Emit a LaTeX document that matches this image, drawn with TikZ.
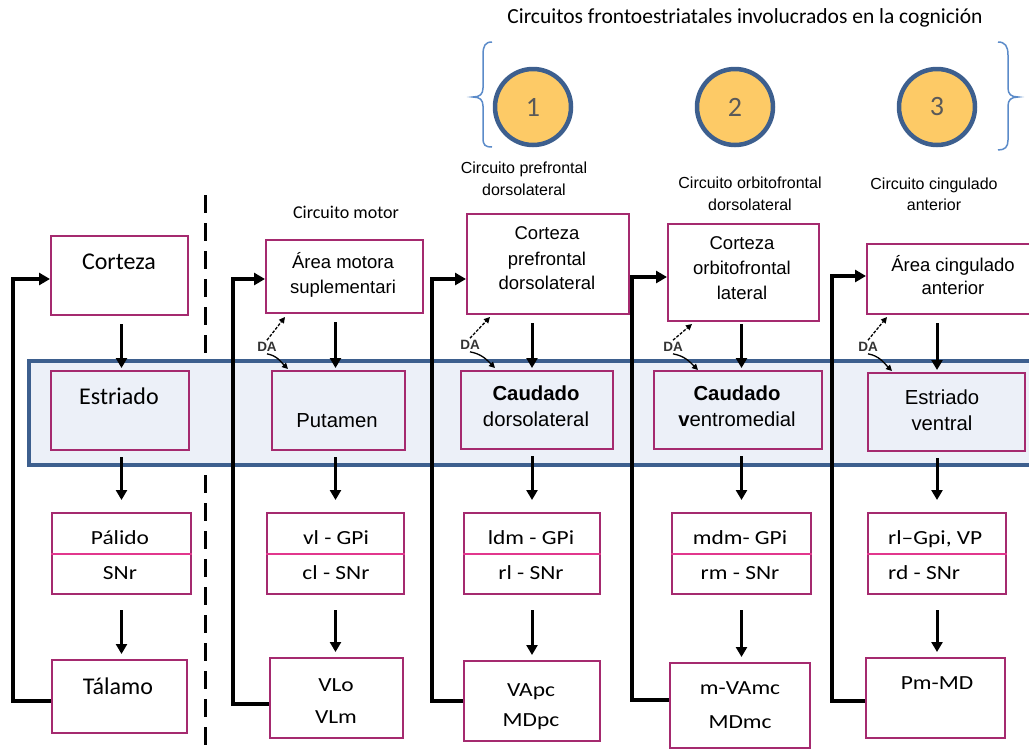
\documentclass[tikz,border=0pt]{standalone}
\usepackage{fontspec}
\setmainfont{Carlito}
\newfontfamily\arialf{Liberation Sans}
\newfontfamily\calstretch[FakeStretch=1.17]{Carlito}
\usetikzlibrary{arrows.meta,calc}
\definecolor{boxc}{HTML}{A52A6F}
\definecolor{divc}{HTML}{E2378D}
\definecolor{bandb}{HTML}{3D5F8E}
\definecolor{bandf}{HTML}{ECF0F8}
\definecolor{circf}{HTML}{FDCA66}
\definecolor{bracec}{HTML}{5B8BC9}
\definecolor{numc}{HTML}{595959}
\begin{document}
\begin{tikzpicture}[x=1pt,y=-1pt,
  box/.style={draw=boxc,line width=2pt,fill=white,anchor=north west,inner sep=0pt},
  bbox/.style={draw=boxc,line width=2pt,anchor=north west,inner sep=0pt},
  lbl/.style={inner sep=0pt,text depth=0pt,anchor=center},
  cbig/.style={lbl,text height=15.5pt,font=\fontsize{24}{28}\selectfont},
  cst/.style={lbl,text height=12.9pt,font=\calstretch\fontsize{20}{24}\selectfont},
  artop/.style={lbl,text height=13.2pt,font=\arialf\fontsize{18.5}{22}\selectfont},
  arband/.style={lbl,text height=14.5pt,font=\arialf\fontsize{20.3}{24}\selectfont},
  arbandb/.style={lbl,text height=14.5pt,font=\arialf\bfseries\fontsize{20.3}{24}\selectfont},
  arsmall/.style={lbl,text height=11.4pt,font=\arialf\fontsize{16}{19}\selectfont},
  dalbl/.style={inner sep=0pt,font=\arialf\bfseries\fontsize{13.5}{15}\selectfont,text=black!80},
  arr/.style={line width=3pt,-{Triangle[width=11pt,length=10pt]}},
  fb/.style={line width=3.5pt,line join=miter,-{Triangle[width=12pt,length=11pt]}},
  daup/.style={line width=1.3pt,dash pattern=on 3pt off 1.5pt,-{Triangle[width=6pt,length=6pt]}},
  dalo/.style={line width=1.3pt,-{Triangle[width=6pt,length=6pt]}},
  div/.style={draw=divc,line width=2pt},
  circ/.style={circle,draw=bandb,line width=4.5pt,fill=circf,minimum size=76pt,inner sep=0pt,font=\fontsize{28}{30}\selectfont,text=numc},
  brace/.style={draw=bracec,line width=1.5pt}
]
\useasboundingbox (0,0) rectangle (1029,753);
\clip (0,0) rectangle (1029,753);

% title, braces and circles
\node[font=\fontsize{21.5}{24}\selectfont,inner sep=0pt] (title) at (745,18) {Circuitos frontoestriatales involucrados en la cognición};
\draw[brace] (492,42) .. controls (485,42) and (483,46) .. (483,55) -- (483,88)
  .. controls (483,94) and (480,97) .. (473,97) .. controls (480,97) and (483,100) .. (483,106)
  -- (483,138) .. controls (483,145) and (485,147) .. (492,147);
\draw[brace] (998,42) .. controls (1005,42) and (1008,46) .. (1008,55) -- (1008,88)
  .. controls (1008,94) and (1011,97) .. (1018,97) .. controls (1011,97) and (1008,100) .. (1008,106)
  -- (1008,140) .. controls (1008,147) and (1005,150) .. (998,150);
\node[circ] (n1) at (533,107) {1};
\node[circ] (n2) at (735,107) {2};
\node[circ] (n3) at (937,107) {3};

% circuit labels
\node[lbl,text height=11.6pt,font=\fontsize{18}{22}\selectfont] (l1) at (346,213) {Circuito motor};
\node[arsmall] (l2a) at (524,168) {Circuito prefrontal};
\node[arsmall] (l2b) at (524,190) {dorsolateral};
\node[arsmall] (l3a) at (750,183) {Circuito orbitofrontal};
\node[arsmall] (l3b) at (750,205) {dorsolateral};
\node[arsmall] (l4a) at (934,184) {Circuito cingulado};
\node[arsmall] (l4b) at (934,205) {anterior};

% separator
\draw[line width=3pt,dash pattern=on 18pt off 10pt] (205,195) -- (205,753);

% band
\node[draw=bandb,fill=bandf,line width=4pt,anchor=north west,minimum width=1013pt,minimum height=104pt,inner sep=0pt] (band) at (27,359) {};

% top boxes
\node[box,minimum width=137pt,minimum height=79pt] (t0) at (50,235) {};
\node[box,minimum width=157pt,minimum height=73pt] (t1) at (265,239) {};
\node[box,minimum width=162pt,minimum height=100pt] (t2) at (466,213) {};
\node[box,minimum width=151pt,minimum height=97pt] (t3) at (667,223) {};
\node[box,minimum width=174pt,minimum height=70pt] (t4) at (866,243) {};
% band boxes
\node[bbox,minimum width=138pt,minimum height=79pt] (m0) at (50,370) {};
\node[bbox,minimum width=133pt,minimum height=79pt] (m1) at (271,370) {};
\node[bbox,minimum width=152pt,minimum height=78pt] (m2) at (460,370) {};
\node[bbox,minimum width=168pt,minimum height=78pt] (m3) at (653,370) {};
\node[bbox,minimum width=157pt,minimum height=78pt] (m4) at (867,372) {};
% row 3 boxes
\node[box,minimum width=139pt,minimum height=81pt] (r0) at (51,512) {};
\node[box,minimum width=137pt,minimum height=81pt] (r1) at (266,512) {};
\node[box,minimum width=136pt,minimum height=81pt] (r2) at (463,512) {};
\node[box,minimum width=139pt,minimum height=81pt] (r3) at (671,512) {};
\node[box,minimum width=138pt,minimum height=81pt] (r4) at (867,512) {};
\foreach \r in {r0,r1,r2,r3,r4} {\draw[div] (\r.west) -- (\r.east);}
% bottom boxes
\node[box,minimum width=135pt,minimum height=73pt] (b0) at (51,659) {};
\node[box,minimum width=133pt,minimum height=80pt] (b1) at (269,657) {};
\node[box,minimum width=136pt,minimum height=80pt] (b2) at (463,660) {};
\node[box,minimum width=140pt,minimum height=85pt] (b3) at (669,662) {};
\node[box,minimum width=139pt,minimum height=80pt] (b4) at (865,657) {};

% texts column 0
\node[cbig] (x0a) at (119,262) {Corteza};
\node[cbig] (x0b) at (119,397) {Estriado};
\node[cst] (x0c) at (120,538) {Pálido};
\node[cst] (x0d) at (120,573) {SNr};
\node[cbig] (x0e) at (118,687) {Tálamo};
% column 1
\node[artop] (x1a) at (343,262) {Área motora};
\node[artop] (x1b) at (343,287) {suplementari};
\node[arband] (x1c) at (337,420) {Putamen};
\node[cst] (x1d) at (336,538) {vl - GPi};
\node[cst] (x1e) at (336,573) {cl - SNr};
\node[cst] (x1f) at (336,685) {VLo};
\node[cst] (x1g) at (336,717) {VLm};
% column 2
\node[artop] (x2a) at (547,233) {Corteza};
\node[artop] (x2b) at (547,259) {prefrontal};
\node[artop] (x2c) at (547,283) {dorsolateral};
\node[arbandb] (x2d) at (536,393) {Caudado};
\node[arband] (x2e) at (536,419) {dorsolateral};
\node[cst] (x2f) at (531,538) {ldm - GPi};
\node[cst] (x2g) at (531,573) {rl - SNr};
\node[cst] (x2h) at (531,690) {VApc};
\node[cst] (x2i) at (531,720) {MDpc};
% column 3
\node[artop] (x3a) at (742,243) {Corteza};
\node[artop] (x3b) at (742,268) {orbitofrontal};
\node[artop] (x3c) at (742,293) {lateral};
\node[arbandb] (x3d) at (737,393) {Caudado};
\node[arband] (x3e) at (737,419) {\textbf{v}entromedial};
\node[cst] (x3f) at (740,538) {mdm- GPi};
\node[cst] (x3g) at (740,573) {rm - SNr};
\node[cst] (x3h) at (740,688) {m-VAmc};
\node[cst] (x3i) at (740,722) {MDmc};
% column 4
\node[artop] (x4a) at (953,265) {Área cingulado};
\node[artop] (x4b) at (953,288) {anterior};
\node[arband] (x4c) at (942,397) {Estriado};
\node[arband] (x4d) at (942,423) {ventral};
\node[cst,anchor=west] (x4e) at (888,538) {rl–Gpi, VP};
\node[cst,anchor=west] (x4f) at (888,573) {rd - SNr};
\node[cst] (x4g) at (937,683) {Pm-MD};

% vertical arrows
\foreach \t/\m/\r/\b/\s in {t0/m0/r0/b0/8,t1/m1/r1/b1/8,t2/m2/r2/b2/8,t3/m3/r3/b3/2,t4/m4/r4/b4/8} {
  \draw[arr] ($(\t.south -| \r.north)+(0,\s)$) -- ($(\m.north -| \r.north)+(0,-2)$);
  \draw[arr] ($(\m.south -| \r.north)+(0,6)$) -- ($(\r.north)+(0,-12)$);
  \draw[arr] ($(\r.south)+(0,15)$) -- ($(\b.north -| \r.north)+(0,-5)$);
}

% feedback loops
\draw[fb] ([yshift=-4.5pt]b0.west) -- ++(-38,0) |- ([yshift=-3.5pt]t0.west);
\draw[fb] ([yshift=-6pt]b1.west) -- ++(-36,0) |- ([yshift=-2.5pt]t1.west);
\draw[fb] (b2.west) -- ++(-31,0) |- ([yshift=-15pt]t2.west);
\draw[fb] ([yshift=5.5pt]b3.west) -- ++(-37,0) |- ([yshift=-4.5pt]t3.west);
\draw[fb] ([yshift=-3pt]b4.west) -- ++(-33,0) |- ([yshift=3pt]t4.west);

% dopamine inputs
\node[dalbl] (da1) at (267,347) {DA};
\node[dalbl] (da2) at (470,345) {DA};
\node[dalbl] (da3) at (673,347) {DA};
\node[dalbl] (da4) at (868,347) {DA};
\draw[daup] ([yshift=2pt]da1.north) -- ($(t1.south west)+(20,3)$);
\draw[daup] ([yshift=2pt]da2.north) -- ($(t2.south west)+(24,2)$);
\draw[daup] ([yshift=2pt]da3.north) -- ($(t3.south west)+(25,2)$);
\draw[daup] ([yshift=2pt]da4.north) -- ($(t4.south west)+(21,2)$);
\draw[dalo] ([yshift=-2pt]da1.south) to[out=-10,in=135] ($(m1.north west)+(17,-1)$);
\draw[dalo] ([yshift=-2pt]da2.south) to[out=-10,in=135] ($(m2.north west)+(35,-2)$);
\draw[dalo] ([yshift=-2pt]da3.south) to[out=-10,in=135] ($(m3.north west)+(45,0)$);
\draw[dalo] ([yshift=-2pt]da4.south) to[out=-10,in=135] ($(m4.north west)+(25,-1)$);
\end{tikzpicture}
\end{document}
